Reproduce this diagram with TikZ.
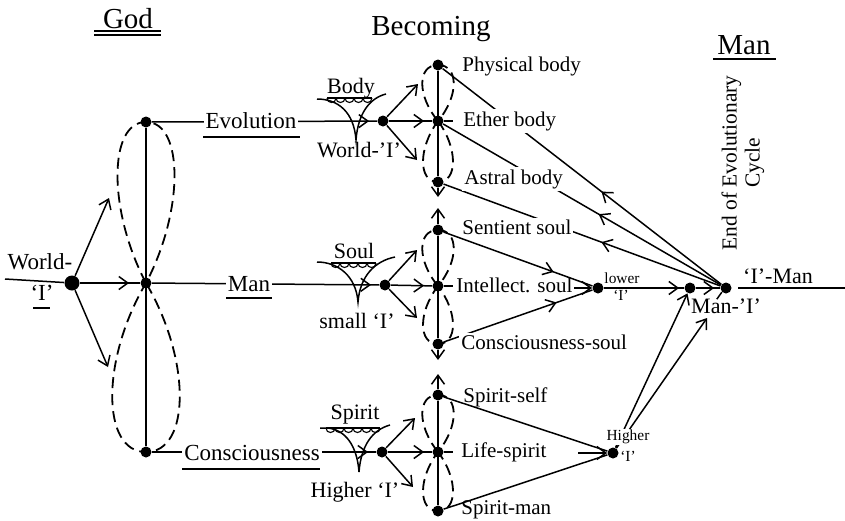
\documentclass[tikz,border=0pt]{standalone}
\usepackage{fontspec}
\setmainfont{Liberation Serif}
\usetikzlibrary{arrows.meta,decorations.markings,calc}
\tikzset{
  >={Straight Barb[length=4.5pt,width=6.5pt]},
  ln/.style={line width=0.75pt},
  dot/.style={circle,fill,inner sep=0pt,minimum size=5.5pt},
  bigdot/.style={circle,fill,inner sep=0pt,minimum size=7.5pt},
  loopd/.style={dash pattern=on 5.5pt off 3pt,line width=0.9pt},
  tipat/.style={postaction={decorate},decoration={markings,mark=at position #1 with {\arrow{>}}}},
  hdr/.style={inner sep=1pt,font=\fontsize{14.5}{17}\selectfont},
  big/.style={inner sep=1pt,font=\fontsize{11.5}{14}\selectfont},
  bigw/.style={big,fill=white},
  cup/.style={inner sep=1pt,font=\fontsize{11}{13}\selectfont},
  mid/.style={inner sep=1pt,anchor=west,font=\fontsize{10.5}{12.5}\selectfont},
  midw/.style={mid,fill=white},
  small/.style={inner sep=0.5pt,font=\fontsize{7.7}{9}\selectfont},
  rot/.style={inner sep=0pt,rotate=90,align=center,font=\fontsize{10.7}{11.5}\selectfont},
}
\newcommand\figeight[7]{%
  \draw[loopd] (#1.center) .. controls ($(#1.center)+(-#4,-#5)$) and ($(#2.center)+(-#4,0)$) .. (#2.center)
    .. controls ($(#2.center)+(#4,0)$) and ($(#1.center)+(#4,-#5)$) .. (#1.center)
    .. controls ($(#1.center)+(-#6,#7)$) and ($(#3.center)+(-#6,0)$) .. (#3.center)
    .. controls ($(#3.center)+(#6,0)$) and ($(#1.center)+(#6,#7)$) .. (#1.center);}
\newcommand\scallops[3]{% x, y, count
  \foreach \i in {1,...,#3}{\draw[line width=0.55pt] ({#1+9*(\i-1)},#2) .. controls ({#1+9*(\i-1)},#2+6) and ({#1+9*\i},#2+6) .. ({#1+9*\i},#2);}}
\begin{document}
\begin{tikzpicture}[x=0.5pt,y=-0.5pt]
\useasboundingbox (0,0) rectangle (845,520);

% ---------- dots ----------
\node[bigdot] (wi) at (72,283) {};
\node[dot] (gt) at (146,122) {};
\node[dot] (gc) at (146,283) {};
\node[dot] (gb) at (146,452) {};
\node[dot] (e1) at (383,121) {};
\node[dot] (e2) at (385,285) {};
\node[dot] (e3) at (382,452) {};
\node[dot] (p1) at (438,65) {};
\node[dot] (p2) at (438,121) {};
\node[dot] (p3) at (438,182) {};
\node[dot] (s1) at (438,230) {};
\node[dot] (s2) at (438,286) {};
\node[dot] (s3) at (438,344) {};
\node[dot] (r1) at (438,395) {};
\node[dot] (r2) at (438,452) {};
\node[dot] (r3) at (438,511) {};
\node[dot] (li) at (598,288) {};
\node[dot] (hi) at (613,453) {};
\node[dot] (mm) at (690,288) {};
\node[dot] (mi) at (726,288) {};

% ---------- coordinates ----------
\coordinate (wiU) at (109,198);
\coordinate (wiD) at (108,367);
\coordinate (e1u) at (418,84);
\coordinate (e1d) at (417,160);
\coordinate (e2u) at (417,250);
\coordinate (e2d) at (417,318);
\coordinate (e3u) at (415,418);
\coordinate (e3d) at (413,487);
\coordinate (p2r) at (453,121);
\coordinate (s2r) at (453,286);
\coordinate (r2r) at (453,452);
\coordinate (p3d) at (438,197);
\coordinate (s1u) at (438,208);
\coordinate (s3d) at (438,360);
\coordinate (r1u) at (438,374);
\coordinate (s2e) at (574,288);
\coordinate (r2e) at (578,453);
\coordinate (mlab) at (707,318);
\coordinate (im1) at (738,288);
\coordinate (im2) at (845,288);

% ---------- God ----------
\figeight{gc}{gt}{gb}{38}{72}{45}{76}
\draw[ln] (gt) -- (gb);
\draw[ln,->] (wi) -- (wiU);
\draw[ln,->] (wi) -- (wiD);
\draw[ln,tipat=-5.5pt] (wi) -- (gc);
\draw[ln,tipat=-4pt] (gt) -- (e1);
\draw[ln,tipat=-4pt] (gc) -- (e2);
\draw[ln,tipat=-4pt] (gb) -- (e3);

% ---------- cups ----------
\draw[ln] (317,99) .. controls (338,99) and (354,112) .. (356,140) .. controls (358,113) and (370,98) .. (386,94);
\draw[ln] (317,262) .. controls (338,262) and (356,276) .. (358,302) .. controls (360,276) and (375,261) .. (395,257);
\draw[ln] (320,428) -- (328,428) .. controls (345,430) and (357,445) .. (359,472) .. controls (361,446) and (372,430) .. (390,425);
\draw[line width=0.55pt] (327,98) -- (372,98);
\scallops{327}{98}{5}
\draw[line width=0.55pt] (331,263) -- (376,263);
\scallops{331}{263}{5}
\draw[line width=0.55pt] (326,428) -- (380,428);
\scallops{326}{428}{6}

% ---------- entry arrows ----------
\draw[ln,->] (e1) -- (e1u);
\draw[ln,->] (e1) -- (e1d);
\draw[ln,tipat=-4pt] (e1) -- (p2);
\draw[ln] (p2) -- (p2r);
\draw[ln,->] (e2) -- (e2u);
\draw[ln,->] (e2) -- (e2d);
\draw[ln,tipat=-4pt] (e2) -- (s2);
\draw[ln] (s2) -- (s2r);
\draw[ln,->] (e3) -- (e3u);
\draw[ln,->] (e3) -- (e3d);
\draw[ln,tipat=-4pt] (e3) -- (r2);
\draw[ln] (r2) -- (r2r);

% ---------- becoming column ----------
\figeight{p2}{p1}{p3}{21}{25}{20}{27}
\figeight{s2}{s1}{s3}{21}{25}{20}{26}
\figeight{r2}{r1}{r3}{21}{26}{20}{26}
\draw[ln] (p1) -- (p3);
\draw[ln,->] (p3) -- (p3d);
\draw[ln,->] (s1) -- (s1u);
\draw[ln] (s1) -- (s3);
\draw[ln,->] (s3) -- (s3d);
\draw[ln,->] (r1) -- (r1u);
\draw[ln] (r1) -- (r3);

% ---------- lines to the right ----------
\draw[ln,tipat=0.43] (mi) -- (p1);
\draw[ln,tipat=0.44] (mi) -- (p2);
\draw[ln,tipat=0.43] (mi) -- (p3);
\draw[ln,tipat=0.76] (s3) -- (li);
\draw[ln] (r1) -- (hi);
\draw[ln] (r3) -- (hi);

% ---------- labels ----------
\node[hdr] (god) at (128,19) {God};
\draw[ln] (94,31) -- (161,31);
\draw[ln] (94,35) -- (161,35);
\node[hdr] (bec) at (431,29) {Becoming};
\node[hdr] (manh) at (744,45) {Man};
\draw[ln] (713,59) -- (776,59);
\node[rot] (eec) at (743,163) {End of Evolutionary\\Cycle};

\node[big] (wlab) at (40,262) {World-};
\draw[ln] (5,279) -- (wi);
\node[big] (wlabi) at (42,293) {‘I’};
\draw[ln] (33,308) -- (50,308);

\node[bigw] (evo) at (251,121) {Evolution};
\draw[ln] (203,137) -- (300,137);
\node[bigw] (manl) at (249,284) {Man};
\draw[ln] (226,298) -- (272,298);
\node[bigw] (cons) at (252,453) {Consciousness};
\draw[ln] (182,469) -- (320,469);

\node[cup] (body) at (351,88) {Body};
\node[cup] (soul) at (354,251) {Soul};
\node[cup] (spirit) at (355,415) {Spirit};
\node[cup] (wI) at (359,150) {World-’I’};
\node[cup] (smI) at (357,321) {small ‘I’};
\node[cup] (hiI) at (355,492) {Higher ‘I’};

\node[mid] (phys) at (460,66) {Physical body};
\node[midw] (ether) at (461,121) {Ether body};
\node[midw] (astral) at (462,179) {Astral body};
\node[midw] (sent) at (460,227) {Sentient soul};
\node[midw] (intel) at (454,285) {Intellect. soul};
\node[midw] (cson) at (459,342) {Consciousness-soul};
\node[mid] (sself) at (461,397) {Spirit-self};
\node[mid] (life) at (459,452) {Life-spirit};
\node[mid] (sman) at (459,510) {Spirit-man};

% lines drawn over labels
\draw[ln,tipat=0.74] (s1) -- (li);
\draw[ln,->] (s2e) -- (li);
\draw[ln,->] (r2e) -- (hi);
\draw[ln,tipat=-2.5pt] (li) -- (mm);
\draw[ln,tipat=-3pt] (mm) -- (mi);
\draw[ln,->] (hi) -- (mm);
\draw[ln,->] (hi) -- (mlab);
\draw[ln] (im1) -- (im2);

\node[small] (lowl) at (622,278) {lower};
\node[small] (lowi) at (621,295) {‘I’};
\node[small,fill=white] (hil) at (628,437) {Higher};
\node[small] (hii) at (628,456) {‘I’};
\node[big,font=\fontsize{11}{13}\selectfont] (mil) at (726,306) {Man-’I’};
\node[big,font=\fontsize{11}{13}\selectfont] (iman) at (778,276) {‘I’-Man};
\draw[ln] (mi.south west) .. controls ($(mi.south west)+(-2,3)$) .. ($(mi.south west)+(-5,7)$);
\end{tikzpicture}
\end{document}
